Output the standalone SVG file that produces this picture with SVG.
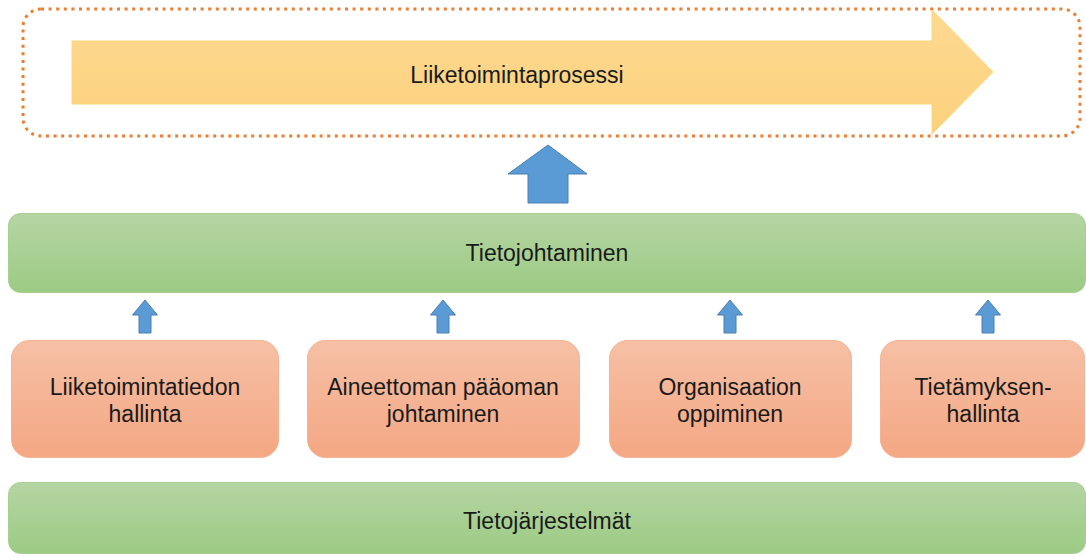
<svg xmlns="http://www.w3.org/2000/svg" width="1086" height="557" viewBox="0 0 1086 557">
  <defs>
    <linearGradient id="gYellow" x1="0" y1="0" x2="0" y2="1">
      <stop offset="0" stop-color="#FDD992"/>
      <stop offset="1" stop-color="#FBD17C"/>
    </linearGradient>
    <linearGradient id="gGreen" x1="0" y1="0" x2="0" y2="1">
      <stop offset="0" stop-color="#B5D5A3"/>
      <stop offset="1" stop-color="#9CCB84"/>
    </linearGradient>
    <linearGradient id="gOrange" x1="0" y1="0" x2="0" y2="1">
      <stop offset="0" stop-color="#F6C0A5"/>
      <stop offset="1" stop-color="#F4A783"/>
    </linearGradient>
  </defs>
  <style>
    .lbl { font-family: "Liberation Sans", Arial, sans-serif; font-size: 23px; fill: #1a1a1a; text-anchor: middle; }
    .green { fill: url(#gGreen); stroke: #A6CF91; stroke-width: 1; }
    .orange { fill: url(#gOrange); stroke: #F4B394; stroke-width: 1; }
    .up { fill: #5B9BD5; stroke: #4A7FB0; stroke-width: 1; }
  </style>

  <!-- process frame with arrow -->
  <g id="process">
    <rect x="23" y="9" width="1057" height="127" rx="18" ry="18" fill="none" stroke="#ED7D31" stroke-width="3" stroke-dasharray="3 4.6"/>
    <polygon points="72,41 932,41 932,10 993,72 932,134 932,104 72,104" fill="url(#gYellow)" stroke="#FCD877" stroke-width="1"/>
    <text class="lbl" x="517" y="83">Liiketoimintaprosessi</text>
  </g>

  <!-- upward arrows -->
  <g id="connectors">
    <polygon class="up" points="548,145 587,174 568,174 568,203 528,203 528,174 508,174"/>
    <polygon class="up" points="145,300 157.5,315 151,315 151,333 139,333 139,315 132.5,315"/>
    <polygon class="up" points="443,300 455.5,315 449,315 449,333 437,333 437,315 430.5,315"/>
    <polygon class="up" points="730,300 742.5,315 736,315 736,333 724,333 724,315 717.5,315"/>
    <polygon class="up" points="988,300 1000.5,315 994,315 994,333 982,333 982,315 975.5,315"/>
  </g>

  <g id="tietojohtaminen">
    <rect class="green" x="8.5" y="213.5" width="1077" height="79" rx="12" ry="12"/>
    <text class="lbl" x="547" y="261">Tietojohtaminen</text>
  </g>

  <g id="liiketoimintatiedon">
    <rect class="orange" x="11.5" y="340.5" width="267" height="117" rx="18" ry="18"/>
    <text class="lbl" x="145" y="395">Liiketoimintatiedon</text>
    <text class="lbl" x="145" y="422">hallinta</text>
  </g>

  <g id="aineettoman">
    <rect class="orange" x="307.5" y="340.5" width="272" height="117" rx="18" ry="18"/>
    <text class="lbl" x="443" y="395">Aineettoman pääoman</text>
    <text class="lbl" x="443" y="422">johtaminen</text>
  </g>

  <g id="organisaatio">
    <rect class="orange" x="609.5" y="340.5" width="242" height="117" rx="18" ry="18"/>
    <text class="lbl" x="730" y="395">Organisaation</text>
    <text class="lbl" x="730" y="422">oppiminen</text>
  </g>

  <g id="tietamys">
    <rect class="orange" x="880.5" y="340.5" width="204" height="117" rx="18" ry="18"/>
    <text class="lbl" x="983" y="395">Tietämyksen-</text>
    <text class="lbl" x="983" y="422">hallinta</text>
  </g>

  <g id="tietojarjestelmat">
    <rect class="green" x="8.5" y="482.5" width="1077" height="71" rx="12" ry="12"/>
    <text class="lbl" x="547" y="529">Tietojärjestelmät</text>
  </g>
</svg>
